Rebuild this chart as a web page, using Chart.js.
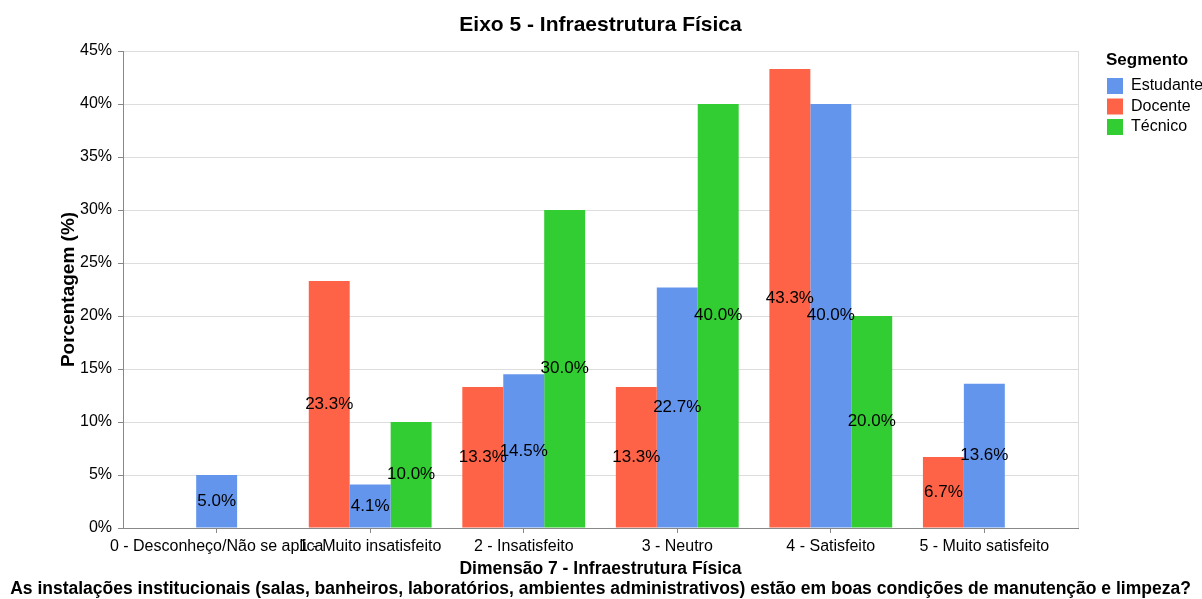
<!DOCTYPE html>
<html>
<head>
<meta charset="utf-8">
<script src="https://cdn.jsdelivr.net/npm/chart.js@4.4.1/dist/chart.umd.min.js"></script>
<style>
  html, body { margin: 0; padding: 0; background: #fff; overflow: hidden; }
  canvas { display: block; }
</style>
</head>
<body>
<canvas id="chart" width="1202" height="599"></canvas>
<script>
// data
const categories = [
  '0 - Desconheço/Não se aplica',
  '1 - Muito insatisfeito',
  '2 - Insatisfeito',
  '3 - Neutro',
  '4 - Satisfeito',
  '5 - Muito satisfeito'
];
const docente = [null, 23.3, 13.3, 13.3, 43.3, 6.7];
const estudante = [5.0, 4.1, 14.5, 22.7, 40.0, 13.6];
const tecnico = [null, 10.0, 30.0, 40.0, 20.0, null];
const yTicks = [0, 5, 10, 15, 20, 25, 30, 35, 40, 45];
const legendOrder = ['Estudante', 'Docente', 'Técnico'];

const title = 'Eixo 5 - Infraestrutura Física';
const xTitle = 'Dimensão 7 - Infraestrutura Física';
const question = 'As instalações institucionais (salas, banheiros, laboratórios, ambientes administrativos) estão em boas condições de manutenção e limpeza?';

const FONT = '"Liberation Sans", Arial, sans-serif';
const toPoints = arr => arr.map((v, i) => ({ x: i, y: v }));

Chart.defaults.font.family = FONT;
Chart.defaults.color = '#000';

// value labels in the middle of each bar
const barLabels = {
  id: 'barLabels',
  afterDatasetsDraw(chart) {
    const ctx = chart.ctx;
    ctx.save();
    ctx.font = '17px ' + FONT;
    ctx.fillStyle = '#000';
    ctx.textAlign = 'center';
    ctx.textBaseline = 'middle';
    chart.data.datasets.forEach((ds, i) => {
      chart.getDatasetMeta(i).data.forEach((bar, j) => {
        const v = ds.data[j].y;
        if (v == null) return;
        ctx.fillText(v.toFixed(1) + '%', bar.x, (bar.y + bar.base) / 2);
      });
    });
    ctx.restore();
  }
};

// right frame line, second line of x title, legend
const extras = {
  id: 'extras',
  beforeDatasetsDraw(chart) {
    const { ctx, chartArea } = chart;
    ctx.save();
    ctx.strokeStyle = '#ddd';
    ctx.lineWidth = 1;
    ctx.beginPath();
    ctx.moveTo(chartArea.right + 0.5, chartArea.top);
    ctx.lineTo(chartArea.right + 0.5, chartArea.bottom);
    ctx.stroke();
    ctx.restore();
  },
  afterDraw(chart) {
    const { ctx, chartArea } = chart;
    ctx.save();
    ctx.fillStyle = '#000';
    ctx.textBaseline = 'middle';
    ctx.textAlign = 'center';
    ctx.font = 'bold 17.5px ' + FONT;
    ctx.fillText(question, (chartArea.left + chartArea.right) / 2, 589.5);

    // legend
    const lx = chartArea.right + 29;
    ctx.textAlign = 'left';
    ctx.font = 'bold 17px ' + FONT;
    ctx.fillText('Segmento', lx - 1, 60);
    ctx.font = '16px ' + FONT;
    legendOrder.forEach((name, k) => {
      const ds = chart.data.datasets.find(d => d.label === name);
      const cy = 86 + k * 20.5;
      ctx.fillStyle = ds.backgroundColor;
      ctx.fillRect(lx, cy - 8, 16, 16);
      ctx.fillStyle = '#000';
      ctx.fillText(name, lx + 24, cy);
    });
    ctx.restore();
  }
};

new Chart(document.getElementById('chart'), {
  type: 'bar',
  data: {
    datasets: [
      { label: 'Docente', data: toPoints(docente), backgroundColor: '#FF6347' },
      { label: 'Estudante', data: toPoints(estudante), backgroundColor: '#6495ED' },
      { label: 'Técnico', data: toPoints(tecnico), backgroundColor: '#32CD32' }
    ]
  },
  options: {
    responsive: false,
    animation: false,
    devicePixelRatio: 1,
    categoryPercentage: 0.8,
    barPercentage: 1,
    layout: { padding: { left: 0, right: 124, top: 0, bottom: 0 } },
    plugins: {
      legend: { display: false },
      tooltip: { enabled: false },
      title: {
        display: true,
        fullSize: false,
        text: title,
        color: '#000',
        font: { size: 21, weight: 'bold', lineHeight: 1 },
        padding: { top: 14.5, bottom: 15.5 }
      }
    },
    scales: {
      x: {
        type: 'linear',
        min: -0.61,
        max: 5.61,
        offset: false,
        afterBuildTicks: s => { s.ticks = categories.map((c, i) => ({ value: i })); },
        afterFit: s => { s.height = 71; },
        ticks: {
          autoSkip: false,
          maxRotation: 0,
          minRotation: 0,
          padding: 4,
          color: '#000',
          font: { size: 16 },
          callback: v => categories[v]
        },
        grid: { offset: false, drawOnChartArea: false, drawTicks: true, tickLength: 5, tickColor: '#888' },
        border: { color: '#888', width: 1 },
        title: {
          display: true,
          text: xTitle,
          color: '#000',
          font: { size: 17.5, weight: 'bold', lineHeight: 1.15 },
          padding: { top: 0, bottom: 19.5 }
        }
      },
      y: {
        min: 0,
        max: 45,
        afterBuildTicks: s => { s.ticks = yTicks.map(v => ({ value: v })); },
        afterFit: s => { s.width = 123; },
        ticks: {
          padding: 6,
          color: '#000',
          font: { size: 16 },
          callback: v => v + '%'
        },
        grid: { color: '#ddd', lineWidth: 1, tickLength: 5, tickColor: '#888' },
        border: { color: '#888', width: 1 },
        title: {
          display: true,
          text: 'Porcentagem (%)',
          color: '#000',
          font: { size: 19, weight: 'bold', lineHeight: 1.25 },
          padding: { top: 57, bottom: 0 }
        }
      }
    }
  },
  plugins: [barLabels, extras]
});
</script>
</body>
</html>
